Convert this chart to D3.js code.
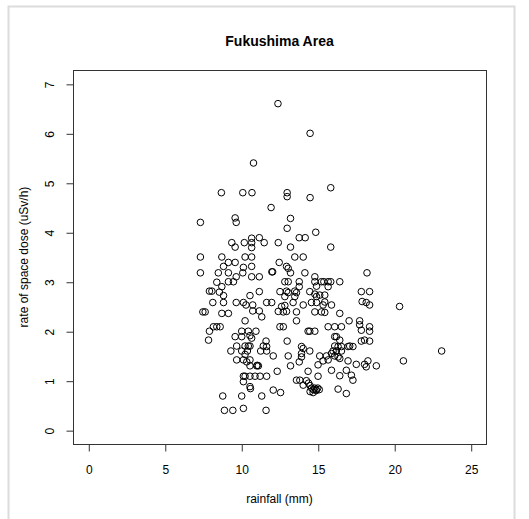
<!DOCTYPE html>
<html>
<head>
<meta charset="utf-8">
<script src="https://cdn.jsdelivr.net/npm/d3@7"></script>
<style>
  html, body { margin: 0; padding: 0; background: #fff; }
  svg text { font-family: "Liberation Sans", Arial, Helvetica, sans-serif; fill: #000; }
</style>
</head>
<body>
<svg id="chart" width="529" height="519"></svg>
<script>
const title = "Fukushima Area";
const xLabel = "rainfall (mm)";
const yLabel = "rate of space dose (uSv/h)";
const xTicks = [0, 5, 10, 15, 20, 25];
const yTicks = [0, 1, 2, 3, 4, 5, 6, 7];

const rainfall = [
  12.4, 14.5, 10.8, 15.85, 8.7, 10.1, 10.7, 13.0, 13.0, 14.5, 11.95,
  7.33, 9.6, 9.67, 9.38, 9.6, 10.2, 10.68, 11.18, 10.68, 10.68, 11.5,
  7.33, 8.73, 9.16, 9.6, 10.25, 10.68, 8.84, 10.14, 10.68, 7.33, 8.5,
  9.16, 10.1, 10.68, 11.18, 9.67, 9.49, 9.16, 8.4, 8.73, 11.18, 7.92,
  8.08, 8.84, 8.57, 10.57, 8.14, 8.84, 9.67, 10.14, 10.31, 10.75, 10.75,
  11.18, 11.66, 7.64, 7.49, 8.73, 9.16,
  13.22, 13.0, 14.87, 13.79, 14.18, 12.42, 13.22, 15.85, 13.5, 14.05,
  12.48, 12.96, 13.07, 12.05, 12.0, 13.22, 14.16, 18.22, 14.81, 12.85,
  13.07, 13.79, 14.81, 15.24, 15.4, 15.68, 15.85, 16.44, 13.79, 14.92,
  15.68, 12.53, 12.96, 13.07, 13.5, 13.61, 14.48, 14.81, 14.92, 15.13,
  15.46, 17.85, 18.39, 11.99, 12.85, 13.5, 13.39, 14.05, 14.59, 14.92,
  15.46, 15.35, 15.9, 17.9, 18.17, 18.39, 12.64, 12.85, 12.42, 12.75,
  12.96, 13.61, 14.81, 15.24, 15.46, 16.44, 20.35,
  10.25, 11.34, 8.18, 8.4, 8.62, 7.92, 7.86, 10.03, 10.46, 10.96, 9.6,
  10.03, 10.57, 10.68, 11.62, 9.7, 10.25, 10.46, 10.57, 11.44, 11.66,
  9.32, 10.03, 10.25, 10.4, 11.27, 11.66, 9.7, 10.14, 10.36, 10.57,
  10.57, 11.01, 11.12, 11.05, 10.14, 10.25, 10.57, 10.9, 11.23, 11.66,
  10.14, 10.57, 10.6, 8.79, 10.03, 11.34, 8.9, 9.45, 10.14, 11.62,
  13.61, 17.05, 17.74, 17.74, 17.85, 18.39, 18.39, 12.53, 12.75, 14.37,
  14.48, 14.81, 15.68, 16.11, 16.55, 16.11, 16.22, 16.44, 13.0, 17.85,
  18.06, 18.39, 13.94, 14.05, 16.11, 16.33, 16.55, 17.09, 17.3, 16.98,
  16.0, 16.22, 16.55, 14.48, 12.09, 13.07, 13.94, 13.94, 15.13, 15.57,
  15.9, 16.11, 16.33, 16.44, 16.98, 17.52, 18.28, 18.06, 18.17, 13.79,
  13.22, 15.02, 15.35, 15.68, 18.83, 12.35, 14.37, 15.9, 16.44, 16.87,
  17.2, 17.3, 15.02, 13.61, 13.83,
  14.26, 14.4, 14.5, 14.6, 14.7, 14.8, 14.9, 15.0, 15.1, 14.5, 14.7,
  14.9, 14.05, 12.09, 12.57, 16.33, 16.87,
  20.6, 23.1
];

const dose = [
  6.6, 6.0, 5.4, 4.9, 4.8, 4.8, 4.8, 4.8, 4.72, 4.7, 4.5,
  4.2, 4.29, 4.2, 3.79, 3.7, 3.79, 3.88, 3.89, 3.79, 3.69, 3.79,
  3.5, 3.5, 3.39, 3.39, 3.5, 3.5, 3.31, 3.29, 3.31, 3.18, 3.18,
  3.18, 3.18, 3.1, 3.1, 3.1, 3.0, 3.0, 2.99, 2.9, 2.8, 2.81,
  2.81, 2.72, 2.79, 2.72, 2.58, 2.58, 2.58, 2.58, 2.53, 2.53, 2.41,
  2.41, 2.58, 2.39, 2.39, 2.36, 2.36,
  4.28, 4.08, 4.0, 3.89, 3.89, 3.79, 3.7, 3.7, 3.5, 3.5,
  3.39, 3.31, 3.27, 3.2, 3.2, 3.18, 3.18, 3.18, 3.1, 3.0,
  3.0, 3.0, 3.0, 3.0, 3.0, 3.0, 3.0, 3.0, 2.9, 2.91,
  2.9, 2.8, 2.81, 2.78, 2.81, 2.78, 2.8, 2.75, 2.7, 2.73,
  2.73, 2.8, 2.8, 2.58, 2.7, 2.7, 2.58, 2.53, 2.58, 2.58,
  2.59, 2.53, 2.53, 2.6, 2.58, 2.53, 2.5, 2.52, 2.4, 2.39,
  2.4, 2.39, 2.39, 2.39, 2.38, 2.36, 2.5,
  2.21, 2.29, 2.09, 2.09, 2.09, 2.0, 1.82, 2.0, 2.0, 2.0, 1.89,
  1.89, 1.91, 1.86, 1.8, 1.7, 1.7, 1.7, 1.7, 1.7, 1.69,
  1.6, 1.6, 1.53, 1.6, 1.6, 1.6, 1.42, 1.42, 1.38, 1.42,
  1.3, 1.3, 1.3, 1.31, 1.09, 1.09, 1.09, 1.09, 1.09, 1.09,
  0.98, 0.88, 0.84, 0.69, 0.69, 0.69, 0.4, 0.4, 0.44, 0.4,
  2.21, 2.21, 2.21, 2.13, 2.02, 2.09, 2.0, 2.09, 2.09, 2.0,
  2.0, 2.0, 2.09, 2.09, 2.09, 1.89, 1.89, 1.82, 1.8, 1.8,
  1.82, 1.8, 1.69, 1.65, 1.7, 1.69, 1.69, 1.7, 1.69, 1.69,
  1.6, 1.6, 1.6, 1.6, 1.5, 1.5, 1.55, 1.48, 1.5, 1.5,
  1.55, 1.5, 1.48, 1.45, 1.4, 1.33, 1.4, 1.33, 1.28, 1.38,
  1.3, 1.32, 1.4, 1.42, 1.3, 1.19, 1.19, 1.21, 1.1, 1.21,
  1.11, 1.01, 1.09, 1.01, 1.01,
  1.0, 0.95, 0.9, 0.85, 0.82, 0.85, 0.82, 0.85, 0.82, 0.78, 0.76,
  0.8, 0.91, 0.81, 0.76, 0.83, 0.74,
  1.4, 1.6
];

const svg = d3.select("#chart");
const W = 529, H = 519;
const plot = { left: 73, right: 486, top: 70, bottom: 444 };

// outer light frame
svg.append("rect")
  .attr("x", 8.5).attr("y", 6.5)
  .attr("width", 506).attr("height", 530)
  .attr("fill", "none").attr("stroke", "#dcdcdc").attr("stroke-width", 2);

const x = d3.scaleLinear().domain([-1, 26]).range([plot.left, plot.right]);
const y = d3.scaleLinear().domain([-0.28, 7.28]).range([plot.bottom, plot.top]);

// points
const data = rainfall.map((r, i) => ({ r, d: dose[i] }));
svg.append("g").selectAll("circle").data(data).join("circle")
  .attr("cx", d => x(d.r))
  .attr("cy", d => y(d.d))
  .attr("r", 3.3)
  .attr("fill", "none")
  .attr("stroke", "#000")
  .attr("stroke-width", 1);

// box
svg.append("rect")
  .attr("x", plot.left + 0.5).attr("y", plot.top + 0.5)
  .attr("width", plot.right - plot.left).attr("height", plot.bottom - plot.top)
  .attr("fill", "none").attr("stroke", "#333").attr("stroke-width", 1);

// x axis
const gx = svg.append("g")
  .attr("transform", `translate(0.5,${plot.bottom + 0.5})`)
  .call(d3.axisBottom(x).tickValues(xTicks).tickSize(7).tickSizeOuter(0).tickFormat(d3.format("d")));
gx.select(".domain").remove();
gx.selectAll(".tick line").attr("stroke", "#333");
gx.selectAll(".tick text")
  .attr("y", 29).attr("dy", null)
  .style("font-size", "12px");

// y axis
const gy = svg.append("g")
  .attr("transform", `translate(${plot.left + 0.5},0.5)`)
  .call(d3.axisLeft(y).tickValues(yTicks).tickSize(7).tickSizeOuter(0).tickFormat(d3.format("d")));
gy.select(".domain").remove();
gy.selectAll(".tick line").attr("stroke", "#333");
gy.selectAll(".tick text")
  .attr("x", null).attr("dy", null)
  .attr("text-anchor", "middle")
  .attr("transform", "translate(-20,0) rotate(-90)")
  .style("font-size", "12px");

// title
svg.append("text")
  .attr("x", (plot.left + plot.right) / 2).attr("y", 46)
  .attr("text-anchor", "middle")
  .style("font-size", "14px").style("font-weight", "bold")
  .text(title);

// x label
svg.append("text")
  .attr("x", (plot.left + plot.right) / 2).attr("y", 503)
  .attr("text-anchor", "middle")
  .style("font-size", "12px")
  .text(xLabel);

// y label
svg.append("text")
  .attr("transform", `translate(28,${(plot.top + plot.bottom) / 2}) rotate(-90)`)
  .attr("text-anchor", "middle")
  .style("font-size", "12px")
  .text(yLabel);
</script>
</body>
</html>
